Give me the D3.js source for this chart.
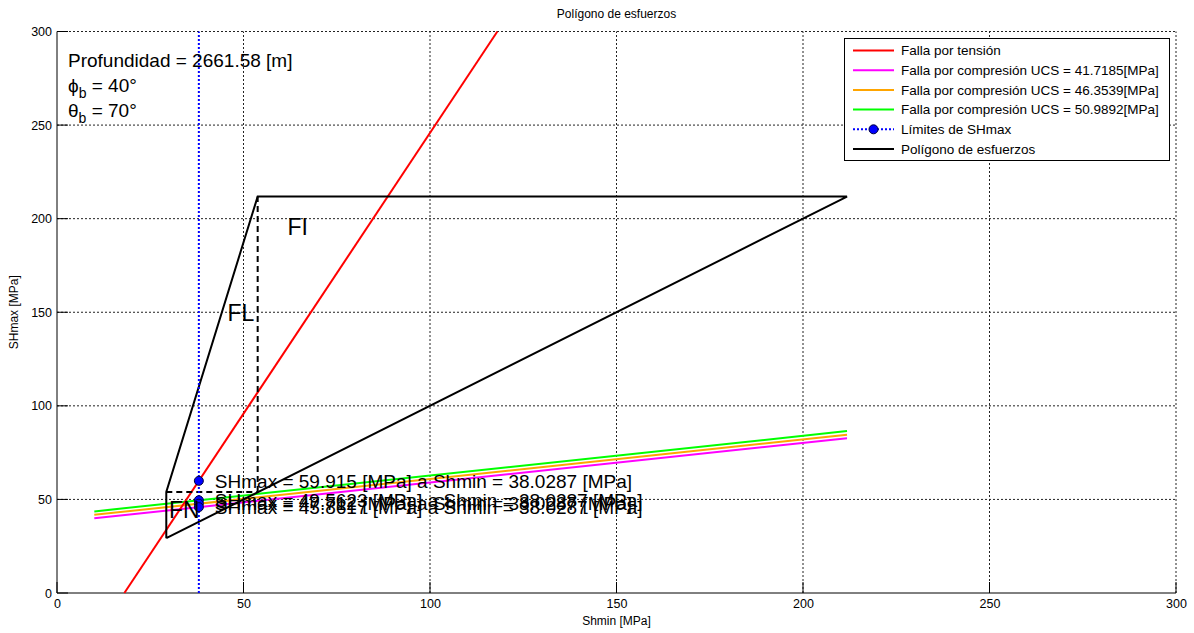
<!DOCTYPE html>
<html>
<head>
<meta charset="utf-8">
<script src="https://cdn.jsdelivr.net/npm/d3@7"></script>
<style>
  html, body { margin: 0; padding: 0; background: #fff; }
  svg { display: block; font-family: "Liberation Sans", Arial, sans-serif; }
</style>
</head>
<body>
<svg id="chart" width="1194" height="633"></svg>
<script>
// ---- data ----
const xTicks = [0, 50, 100, 150, 200, 250, 300];
const yTicks = [0, 50, 100, 150, 200, 250, 300];

const tensionShmin = [18.06, 118.06];
const tensionSHmax = [0, 300];

const ucsValues = ["41.7185", "46.3539", "50.9892"];
const compShmin = [10, 211.8];
const compSHmaxUCS1 = [39.9, 82.7];
const compSHmaxUCS2 = [41.75, 84.6];
const compSHmaxUCS3 = [43.6, 86.5];

const polygonShmin = [29.3, 29.3, 53.8, 211.8, 211.8, 29.3];
const polygonSHmax = [29.3, 54.0, 211.8, 211.8, 211.8, 29.3];

const dashHShmin = [29.3, 53.8];
const dashHSHmax = [54.0, 54.0];
const dashVShmin = [53.8, 53.8];
const dashVSHmax = [54.0, 211.8];

const limitShmin = 38.0287;
const limitLineSHmax = [0, 300];
const limitPointsSHmax = [59.915, 49.5623, 47.712, 45.8617];
const limitLabels = ["59.915", "49.5623", "47.712", "45.8617"];

const regionLabels = ["FN", "FL", "FI"];
const regionShmin = [30.0, 45.7, 61.8];
const regionSHmax = [44.6, 149.5, 195.5];

const infoLines = ["Profundidad = 2661.58 [m]", "40°", "70°"];

// ---- layout ----
const svg = d3.select("#chart");
const pL = 57, pR = 1176, pT = 31.5, pB = 593;
const x = d3.scaleLinear().domain([0, 300]).range([pL, pR]);
const y = d3.scaleLinear().domain([0, 300]).range([pB, pT]);

// grid
const grid = svg.append("g");
xTicks.filter(d => d > 0).forEach(t => {
  grid.append("line").attr("x1", x(t)).attr("x2", x(t)).attr("y1", y(0)).attr("y2", y(300))
    .attr("stroke", "#222").attr("stroke-width", 1).attr("stroke-dasharray", "2,2");
});
yTicks.filter(d => d > 0).forEach(t => {
  grid.append("line").attr("x1", x(0)).attr("x2", x(300)).attr("y1", y(t)).attr("y2", y(t))
    .attr("stroke", "#222").attr("stroke-width", 1).attr("stroke-dasharray", "2,2");
});

// axes
const xAxis = d3.axisBottom(x).tickValues(xTicks).tickSize(0).tickPadding(6).tickFormat(d3.format("d"));
const yAxis = d3.axisLeft(y).tickValues(yTicks).tickSize(0).tickPadding(5).tickFormat(d3.format("d"));
const gx = svg.append("g").attr("transform", `translate(0,${pB})`).call(xAxis);
const gy = svg.append("g").attr("transform", `translate(${pL},0)`).call(yAxis);
[gx, gy].forEach(g => {
  g.select(".domain").remove();
  g.selectAll("text").attr("font-size", 12.5).attr("fill", "#000")
    .attr("font-family", "'Liberation Sans', Arial, sans-serif");
});
// inner ticks
xTicks.forEach(t => svg.append("line").attr("x1", x(t)).attr("x2", x(t)).attr("y1", pB).attr("y2", pB - 11).attr("stroke", "#000"));
yTicks.forEach(t => svg.append("line").attr("x1", pL).attr("x2", pL + 11).attr("y1", y(t)).attr("y2", y(t)).attr("stroke", "#000"));
svg.append("line").attr("x1", pL).attr("x2", pR).attr("y1", pB).attr("y2", pB).attr("stroke", "#000");
svg.append("line").attr("x1", pL).attr("x2", pL).attr("y1", pB).attr("y2", pT).attr("stroke", "#000");

const line = d3.line().x(d => x(d[0])).y(d => y(d[1]));
const zip = (a, b) => a.map((v, i) => [v, b[i]]);

const plot = svg.append("g");
// compression lines
const compColors = ["#ff00ff", "#ffa500", "#00ff00"];
[compSHmaxUCS1, compSHmaxUCS2, compSHmaxUCS3].forEach((s, i) => {
  plot.append("path").attr("d", line(zip(compShmin, s))).attr("fill", "none")
    .attr("stroke", compColors[i]).attr("stroke-width", 2);
});
// tension line
plot.append("path").attr("d", line(zip(tensionShmin, tensionSHmax))).attr("fill", "none")
  .attr("stroke", "#ff0000").attr("stroke-width", 2);
// polygon
plot.append("path").attr("d", line(zip(polygonShmin, polygonSHmax))).attr("fill", "none")
  .attr("stroke", "#000").attr("stroke-width", 2).attr("stroke-linejoin", "miter");
plot.append("path").attr("d", line(zip(dashHShmin, dashHSHmax))).attr("fill", "none")
  .attr("stroke", "#000").attr("stroke-width", 2).attr("stroke-dasharray", "6,4");
plot.append("path").attr("d", line(zip(dashVShmin, dashVSHmax))).attr("fill", "none")
  .attr("stroke", "#000").attr("stroke-width", 2).attr("stroke-dasharray", "6,4");
// limit line
plot.append("path").attr("d", line(limitLineSHmax.map(v => [limitShmin, v]))).attr("fill", "none")
  .attr("stroke", "#0000ff").attr("stroke-width", 2).attr("stroke-dasharray", "2,2");
// limit points
limitPointsSHmax.forEach(v => {
  plot.append("circle").attr("cx", x(limitShmin)).attr("cy", y(v)).attr("r", 4.5)
    .attr("fill", "#0000ff").attr("stroke", "#00003a").attr("stroke-width", 1);
});
// limit labels
limitPointsSHmax.forEach((v, i) => {
  plot.append("text").attr("x", x(limitShmin) + 16).attr("y", y(v)).attr("dy", "0.35em")
    .attr("font-size", 19).attr("fill", "#000")
    .text(`SHmax = ${limitLabels[i]} [MPa] a Shmin = ${limitShmin} [MPa]`);
});
// region labels
regionLabels.forEach((t, i) => {
  plot.append("text").attr("x", x(regionShmin[i])).attr("y", y(regionSHmax[i])).attr("dy", "0.35em")
    .attr("font-size", 23).attr("fill", "#000").text(t);
});

// info text
const info = svg.append("g").attr("font-size", 19).attr("fill", "#000");
info.append("text").attr("x", 68).attr("y", 60).attr("dy", "0.35em").text(infoLines[0]);
const t1 = info.append("text").attr("x", 68).attr("y", 85).attr("dy", "0.35em");
t1.append("tspan").text("ϕ");
t1.append("tspan").attr("font-size", 14).attr("dy", 6).text("b");
t1.append("tspan").attr("dy", -6).text(" = " + infoLines[1]);
const t2 = info.append("text").attr("x", 68).attr("y", 110).attr("dy", "0.35em");
t2.append("tspan").text("θ");
t2.append("tspan").attr("font-size", 14).attr("dy", 6).text("b");
t2.append("tspan").attr("dy", -6).text(" = " + infoLines[2]);

// title & axis labels
svg.append("text").attr("x", (pL + pR) / 2).attr("y", 14).attr("dy", "0.35em")
  .attr("text-anchor", "middle").attr("font-size", 12).text("Polígono de esfuerzos");
svg.append("text").attr("x", (pL + pR) / 2).attr("y", 621).attr("dy", "0.35em")
  .attr("text-anchor", "middle").attr("font-size", 12).text("Shmin [MPa]");
svg.append("text").attr("transform", `translate(14,${(pT + pB) / 2}) rotate(-90)`).attr("dy", "0.35em")
  .attr("text-anchor", "middle").attr("font-size", 12).text("SHmax [MPa]");

// legend
const legendItems = [
  { label: "Falla por tensión", color: "#ff0000", type: "line" },
  { label: `Falla por compresión UCS = ${ucsValues[0]}[MPa]`, color: "#ff00ff", type: "line" },
  { label: `Falla por compresión UCS = ${ucsValues[1]}[MPa]`, color: "#ffa500", type: "line" },
  { label: `Falla por compresión UCS = ${ucsValues[2]}[MPa]`, color: "#00ff00", type: "line" },
  { label: "Límites de SHmax", color: "#0000ff", type: "marker" },
  { label: "Polígono de esfuerzos", color: "#000000", type: "line" }
];
const lg = svg.append("g");
lg.append("rect").attr("x", 844.5).attr("y", 38.5).attr("width", 325).attr("height", 122)
  .attr("fill", "#fff").attr("stroke", "#000").attr("stroke-width", 1);
legendItems.forEach((d, i) => {
  const yy = 50.5 + i * 19.7;
  lg.append("line").attr("x1", 853).attr("x2", 894).attr("y1", yy).attr("y2", yy)
    .attr("stroke", d.color).attr("stroke-width", 2)
    .attr("stroke-dasharray", d.type === "marker" ? "2,2" : null);
  if (d.type === "marker") {
    lg.append("circle").attr("cx", 873.5).attr("cy", yy).attr("r", 4.5)
      .attr("fill", "#0000ff").attr("stroke", "#00003a");
  }
  lg.append("text").attr("x", 901).attr("y", yy).attr("dy", "0.35em")
    .attr("font-size", 13.5).attr("fill", "#000").text(d.label);
});
</script>
</body>
</html>
